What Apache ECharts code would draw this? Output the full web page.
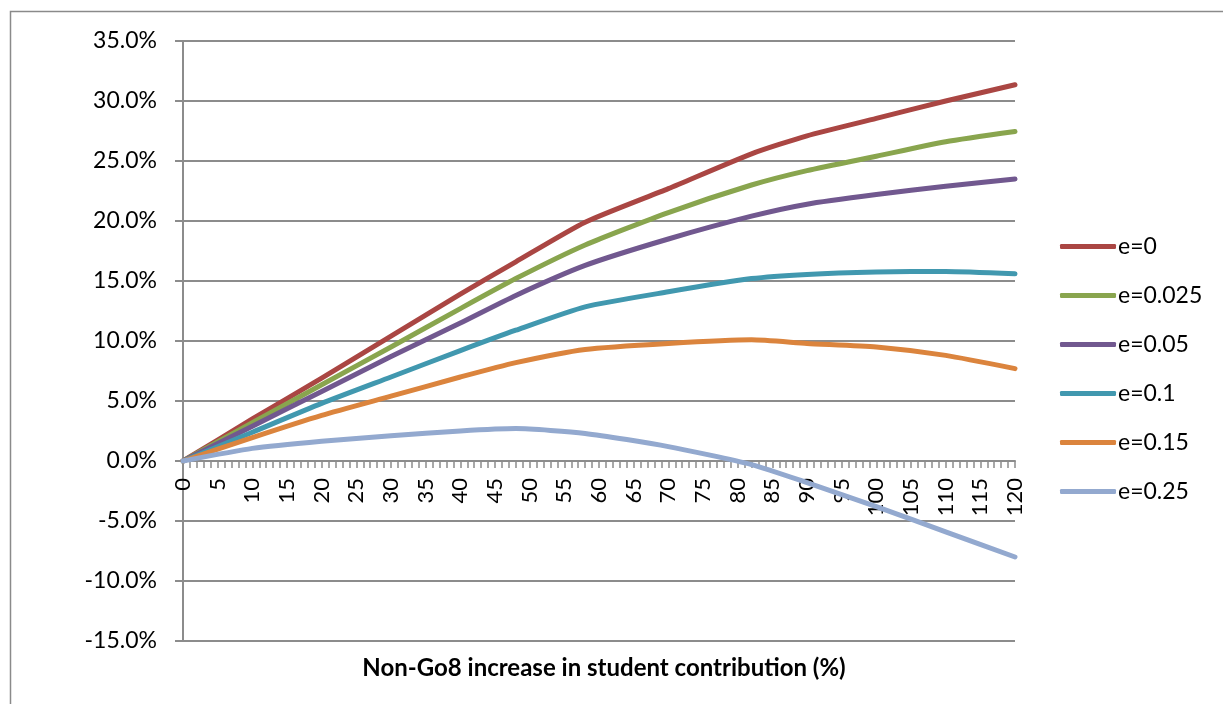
<!DOCTYPE html>
<html>
<head>
<meta charset="utf-8">
<script src="https://cdn.jsdelivr.net/npm/echarts@6/dist/echarts.min.js"></script>
<style>
  html, body { margin: 0; padding: 0; background: #fff; }
  #chart { width: 1223px; height: 704px; }
</style>
</head>
<body>
<div id="chart"></div>
<script>
// Increase in student contribution (%) at which each series value is given
const contributionPct = [0, 10, 20, 30, 40, 48, 58, 70, 82, 90, 100, 110, 120];

// Change in outcome (%) for each elasticity e
const seriesNames = ['e=0', 'e=0.025', 'e=0.05', 'e=0.1', 'e=0.15', 'e=0.25'];
const e0    = [0, 3.5, 6.9, 10.4, 13.9, 16.6, 19.9, 22.7, 25.6, 27.1, 28.55, 30.0, 31.35];
const e0025 = [0, 3.2, 6.35, 9.5, 12.7, 15.2, 18.0, 20.7, 23.0, 24.2, 25.4, 26.6, 27.45];
const e005  = [0, 2.9, 5.8, 8.7, 11.5, 13.8, 16.3, 18.5, 20.4, 21.4, 22.2, 22.9, 23.5];
const e01   = [0, 2.4, 4.8, 7.0, 9.2, 10.9, 12.85, 14.1, 15.2, 15.55, 15.75, 15.8, 15.6];
const e015  = [0, 1.95, 3.8, 5.4, 7.0, 8.2, 9.3, 9.8, 10.1, 9.8, 9.5, 8.8, 7.7];
const e025  = [0, 1.05, 1.65, 2.1, 2.5, 2.7, 2.3, 1.2, -0.3, -1.8, -3.8, -5.9, -8.0];

const seriesValues = [e0, e0025, e005, e01, e015, e025];
const seriesColors = ['#AA4643', '#89A54E', '#71588F', '#4198AF', '#DB843D', '#93A9CF'];

const xAxisTitle = 'Non-Go8 increase in student contribution (%)';

const FONT = 'Lato, "Open Sans", sans-serif';
const GRID_GREY = '#8c8c8c';

// Vertical range of the value axis and where the category axis crosses it
const Y_MIN = -15, Y_MAX = 35;
const GRID_TOP = 41, GRID_BOTTOM = 63, CHART_H = 704;
const plotH = CHART_H - GRID_TOP - GRID_BOTTOM;
// shift the x axis from the bottom edge up to y = 0
const zeroOffset = -plotH * (0 - Y_MIN) / (Y_MAX - Y_MIN);

const chart = echarts.init(document.getElementById('chart'), null, { renderer: 'canvas' });

chart.setOption({
  backgroundColor: '#ffffff',
  animation: false,
  graphic: [{
    type: 'rect',
    shape: { x: 10.5, y: 11.5, width: 1400, height: 900 },
    style: { fill: 'none', stroke: '#8a8a8a', lineWidth: 1.5 },
    silent: true
  }],
  grid: { left: 183, right: 208, top: GRID_TOP, bottom: GRID_BOTTOM, containLabel: false, outerBoundsMode: 'none' },
  legend: {
    orient: 'vertical',
    left: 1055,
    top: 230,
    icon: 'roundRect',
    itemWidth: 56,
    itemHeight: 5,
    itemGap: 26,
    textStyle: { fontFamily: FONT, fontSize: 23, color: '#000', lineHeight: 22, padding: [0, 0, 0, -3] },
    data: seriesNames
  },
  xAxis: {
    type: 'value',
    min: 0,
    max: 120,
    interval: 5,
    position: 'bottom',
    offset: zeroOffset,
    axisLine: { show: true, onZero: false, lineStyle: { color: GRID_GREY, width: 2 } },
    axisTick: { show: true, length: 7, lineStyle: { color: GRID_GREY, width: 1.5 } },
    minorTick: { show: true, splitNumber: 5, length: 7, lineStyle: { color: GRID_GREY, width: 1.5 } },
    axisLabel: { rotate: 90, margin: 17, fontFamily: FONT, fontSize: 22, color: '#000' },
    splitLine: { show: false }
  },
  yAxis: {
    type: 'value',
    min: Y_MIN,
    max: Y_MAX,
    interval: 5,
    axisLine: { show: true, lineStyle: { color: GRID_GREY, width: 2 } },
    axisTick: { show: true, length: 8, lineStyle: { color: GRID_GREY, width: 2 } },
    axisLabel: {
      margin: 26,
      fontFamily: FONT,
      fontSize: 23,
      color: '#000',
      formatter: v => v.toFixed(1) + '%'
    },
    splitLine: { show: true, lineStyle: { color: GRID_GREY, width: 2 } }
  },
  title: {
    text: xAxisTitle,
    left: 599,
    textAlign: 'center',
    top: 651,
    textStyle: { fontFamily: FONT, fontSize: 24, fontWeight: 'bold', color: '#000' }
  },
  series: seriesNames.map((name, i) => ({
    name,
    type: 'line',
    symbol: 'none',
    smooth: 0.2,
    color: seriesColors[i],
    lineStyle: { width: 5, color: seriesColors[i], cap: 'round', join: 'round' },
    data: contributionPct.map((x, j) => [x, seriesValues[i][j]])
  }))
});
</script>
</body>
</html>
